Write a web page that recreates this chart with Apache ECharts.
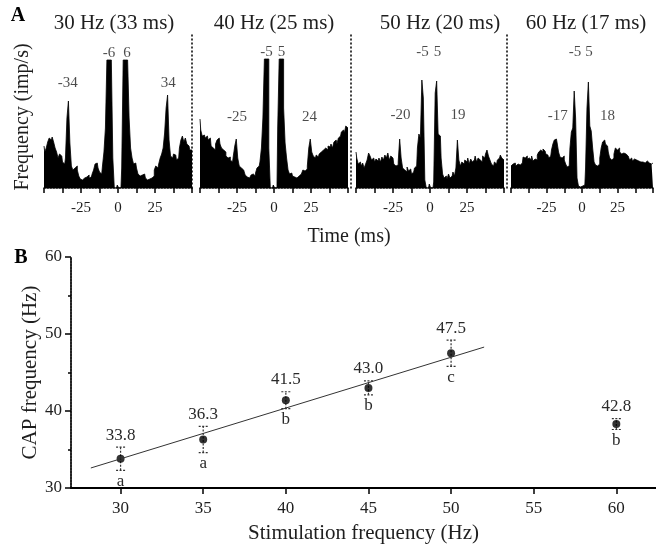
<!DOCTYPE html>
<html><head><meta charset="utf-8">
<script src="https://cdn.jsdelivr.net/npm/echarts@6/dist/echarts.min.js"></script>
<style>html,body{margin:0;padding:0;background:#fff}#c{width:656px;height:547px}</style>
</head><body><div id="c"></div>
<script>
// ---------- Panel A: autocorrelograms (1 ms bins, lag -50 .. 50 ms) ----------
const LAG_MIN = -50;
const hist30 = [42,36,40,46,50,48,51,46,40,36,30,34,32,26,24,30,70,87,45,22,18,20,22,18,12,9,8,10,12,11,13,10,11,14,18,24,25,20,16,14,22,36,60,128,128,128,128,30,0,0,3,0,0,20,128,128,128,128,70,40,30,24,25,20,14,12,13,15,14,10,8,9,7,10,12,18,22,20,24,30,34,40,55,80,93,48,32,30,34,33,28,30,40,48,52,46,50,44,42,38,38];
const hist40 = [69,58,52,53,50,52,48,50,42,40,38,44,48,50,44,40,38,36,32,30,31,28,26,32,42,49,30,22,20,18,17,13,11,10,11,13,14,12,15,20,22,26,40,70,129,129,129,40,0,0,3,0,0,60,129,129,129,80,45,30,18,14,15,12,11,10,10,12,14,16,18,17,19,22,40,49,36,32,30,33,31,34,36,38,36,40,38,42,41,44,40,46,48,44,50,52,56,58,55,62,60];
const hist50 = [36,30,24,26,22,25,20,24,28,35,32,28,30,26,29,27,30,26,31,28,33,30,35,28,32,30,24,22,23,26,49,30,20,18,16,21,17,19,14,16,20,22,40,54,50,108,90,8,0,0,4,0,0,6,95,107,54,52,30,14,10,12,9,14,10,12,16,12,20,48,28,22,26,24,28,26,30,24,29,26,28,32,26,30,28,26,32,30,34,38,32,28,24,22,26,24,28,30,33,30,28];
const hist60 = [22,24,23,25,22,24,23,21,25,31,30,32,29,30,28,32,27,29,28,33,36,38,36,39,37,34,33,30,32,38,44,48,49,45,36,31,30,32,28,24,21,22,40,56,60,97,70,10,2,1,2,1,3,20,80,106,62,57,40,26,23,22,24,30,40,46,48,44,42,36,30,28,30,34,40,38,40,36,34,35,33,34,32,30,28,30,27,29,28,30,27,26,28,26,25,24,27,25,26,24,25];
const histograms = [hist30, hist40, hist50, hist60];
const panelTitles = ['30 Hz (33 ms)', '40 Hz (25 ms)', '50 Hz (20 ms)', '60 Hz (17 ms)'];
// peak annotations: [lag (ms, also the printed text), height]
const peakLabels = [
  [[-6,135],[6,135],[-34,105],[34,105]],
  [[-5,136],[5,136],[-25,71],[24,71]],
  [[-5,136],[5,136],[-20,73],[19,73]],
  [[-5,136],[5,136],[-17,72],[18,72]]
];
const aTickLabels = [-25, 0, 25];

// ---------- Panel B: CAP frequency vs stimulation frequency ----------
const stimFreq = [30, 35, 40, 45, 50, 60];
const capFreq  = [33.8, 36.3, 41.4, 43.0, 47.5, 38.3];
const capErr   = [1.5, 1.7, 1.1, 0.9, 1.7, 0.7];
const capText  = ['33.8', '36.3', '41.5', '43.0', '47.5', '42.8'];
const groupLetters = ['a', 'a', 'b', 'b', 'c', 'b'];
const fitLine = [[28.2, 32.6], [52.0, 48.3]];
const bTicksX = [30, 35, 40, 45, 50, 55, 60];

const SERIF = "'Liberation Serif','Times New Roman',serif";
const INK = '#1e1e1e';

const chart = echarts.init(document.getElementById('c'), null, {renderer: 'canvas'});

const gridLefts = [44, 200, 356, 511];
const grid = gridLefts.map(l => ({left: l, top: 33, width: 148, height: 155}));
grid.push({left: 71, right: 0, top: 257, height: 231});

const xAxis = gridLefts.map((l, i) => ({
  type: 'value', gridIndex: i, min: -50, max: 50, interval: 12.5,
  axisLine: {onZero: false, lineStyle: {color: '#000', width: 1.5, type: 'dotted'}},
  axisTick: {length: 5, lineStyle: {color: '#000', width: 1.5}},
  axisLabel: {formatter: v => aTickLabels.includes(v) ? String(v) : '', fontSize: 15, fontFamily: SERIF, color: INK, margin: 13},
  splitLine: {show: false}
}));
xAxis.push({
  type: 'value', gridIndex: 4, min: 27, max: 62.4,
  axisLine: {onZero: false, lineStyle: {color: '#000', width: 2}},
  axisTick: {customValues: bTicksX, length: 6, lineStyle: {color: '#000', width: 1.5}},
  axisLabel: {customValues: bTicksX, fontSize: 17, fontFamily: SERIF, color: INK, margin: 12},
  splitLine: {show: false},
  name: 'Stimulation frequency (Hz)', nameLocation: 'middle', nameGap: 35, nameMoveOverlap: false,
  nameTextStyle: {fontSize: 21, fontFamily: SERIF, color: INK}
});

const yAxis = gridLefts.map((l, i) => ({
  type: 'value', gridIndex: i, position: 'right', offset: i === 0 ? 0 : 3, min: 0, max: 155,
  axisLine: {show: i < 3, onZero: false, lineStyle: {color: '#000', width: 1.5, type: [1, 3]}},
  axisTick: {show: false}, axisLabel: {show: false}, splitLine: {show: false}
}));
yAxis.push({
  type: 'value', gridIndex: 4, min: 30, max: 60, interval: 10,
  axisLine: {show: true, onZero: false, lineStyle: {color: '#222', width: 2, type: [2, 1]}},
  axisTick: {show: true, length: 6, lineStyle: {color: '#000', width: 1.5}},
  minorTick: {show: true, splitNumber: 2, length: 3, lineStyle: {color: '#000', width: 1.5}},
  axisLabel: {fontSize: 17, fontFamily: SERIF, color: INK, margin: 9},
  splitLine: {show: false},
  name: 'CAP frequency (Hz)', nameLocation: 'middle', nameGap: 30, nameRotate: 90, nameMoveOverlap: false,
  nameTextStyle: {fontSize: 21, fontFamily: SERIF, color: INK}
});

const series = [];
histograms.forEach((h, i) => {
  series.push({
    type: 'line', xAxisIndex: i, yAxisIndex: i, silent: true, step: 'middle',
    data: h.map((v, k) => [LAG_MIN + k, v]),
    symbol: 'none', lineStyle: {color: '#000', width: 0.8},
    areaStyle: {color: '#000', opacity: 1}
  });
  series.push({
    type: 'scatter', xAxisIndex: i, yAxisIndex: i, silent: true,
    data: peakLabels[i].map(p => [p[0], p[1]]),
    symbolSize: 1, itemStyle: {color: 'rgba(0,0,0,0)'},
    label: {show: true, position: 'inside', formatter: p => String(p.value[0]), fontSize: 15, fontFamily: SERIF, color: INK}
  });
});

series.push({
  type: 'line', xAxisIndex: 4, yAxisIndex: 4, silent: true, data: fitLine,
  symbol: 'none', lineStyle: {color: '#333', width: 1}
});
series.push({
  type: 'custom', xAxisIndex: 4, yAxisIndex: 4, silent: true,
  data: stimFreq.map((x, i) => [x, capFreq[i] - capErr[i], capFreq[i] + capErr[i]]),
  encode: {x: 0, y: [1, 2]},
  renderItem: (params, api) => {
    const x = api.value(0);
    const lo = api.coord([x, api.value(1)]);
    const hi = api.coord([x, api.value(2)]);
    const hw = 4.5;
    const st = {stroke: '#333', lineWidth: 1.2, lineDash: [2, 1.5]};
    const i = params.dataIndex;
    return {type: 'group', children: [
      {type: 'line', shape: {x1: lo[0], y1: lo[1], x2: hi[0], y2: hi[1]}, style: st},
      {type: 'line', shape: {x1: hi[0] - hw, y1: hi[1], x2: hi[0] + hw, y2: hi[1]}, style: st},
      {type: 'line', shape: {x1: lo[0] - hw, y1: lo[1], x2: lo[0] + hw, y2: lo[1]}, style: st},
      {type: 'text', x: hi[0], y: hi[1] - 12, style: {text: capText[i], align: 'center', verticalAlign: 'middle', fontSize: 17, fontFamily: SERIF, fill: '#2a2a2a'}},
      {type: 'text', x: lo[0], y: lo[1] + 11, style: {text: groupLetters[i], align: 'center', verticalAlign: 'middle', fontSize: 17, fontFamily: SERIF, fill: '#2a2a2a'}}
    ]};
  }
});
series.push({
  type: 'scatter', xAxisIndex: 4, yAxisIndex: 4, silent: true,
  data: stimFreq.map((x, i) => [x, capFreq[i]]),
  symbol: 'circle', symbolSize: 8, itemStyle: {color: '#000'}
});

const txt = (text, x, y, size, extra) => Object.assign({
  type: 'text', x, y, silent: true,
  style: {text, align: 'center', verticalAlign: 'middle', fontSize: size, fontFamily: SERIF, fill: INK}
}, extra || {});

const titleX = [114, 274, 440, 586];
const graphic = [
  txt('A', 18, 16, 20, {style: {text: 'A', align: 'center', verticalAlign: 'middle', fontSize: 20, fontWeight: 'bold', fontFamily: SERIF, fill: '#000'}}),
  txt('B', 21, 258, 20, {style: {text: 'B', align: 'center', verticalAlign: 'middle', fontSize: 20, fontWeight: 'bold', fontFamily: SERIF, fill: '#000'}}),
  txt('Time (ms)', 349, 237, 20),
  txt('Frequency (imp/s)', 23, 117, 20, {rotation: Math.PI / 2})
];
panelTitles.forEach((t, i) => graphic.push(txt(t, titleX[i], 23, 21)));

chart.setOption({
  animation: false,
  backgroundColor: '#fff',
  grid, xAxis, yAxis, series, graphic
});
</script></body></html>
